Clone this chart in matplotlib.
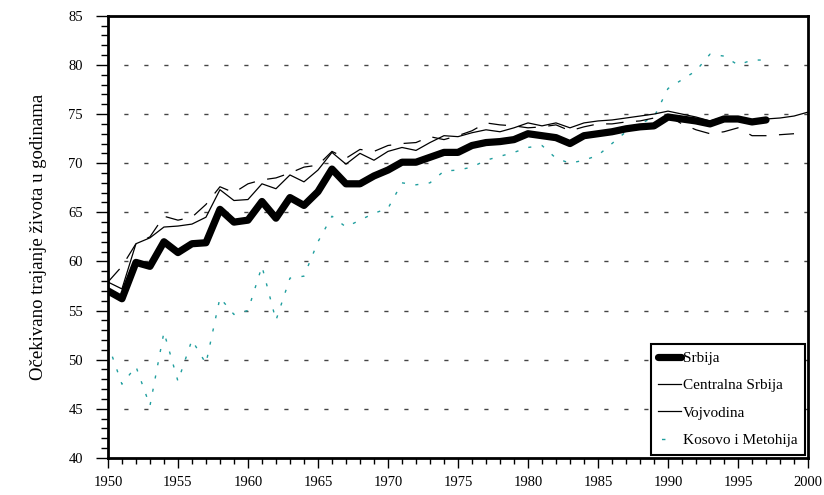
import matplotlib

matplotlib.use("Agg")
import matplotlib.pyplot as plt
from matplotlib.ticker import MultipleLocator

# life expectancy
yrs_srb = list(range(1950, 1998))
srbija = [57.0, 56.2, 59.9, 59.5, 62.0, 60.9, 61.8, 61.9, 65.3, 64.0,
          64.2, 66.1, 64.4, 66.5, 65.7, 67.1, 69.4, 67.9, 67.9, 68.7,
          69.3, 70.1, 70.1, 70.6, 71.1, 71.1, 71.8, 72.1, 72.2, 72.4,
          73.0, 72.8, 72.6, 72.0, 72.8, 73.0, 73.2, 73.5, 73.7, 73.8,
          74.7, 74.5, 74.3, 74.0, 74.5, 74.5, 74.2, 74.4]

yrs_cen = list(range(1950, 2001))
centralna = [57.9, 57.2, 61.8, 62.4, 63.5, 63.6, 63.8, 64.5, 67.3, 66.2,
             66.3, 67.9, 67.4, 68.8, 68.1, 69.3, 71.1, 69.9, 71.0, 70.3,
             71.2, 71.6, 71.3, 72.1, 72.8, 72.7, 73.1, 73.4, 73.2, 73.6,
             74.1, 73.8, 74.1, 73.6, 74.1, 74.3, 74.4, 74.6, 74.8, 75.0,
             75.3, 75.0, 74.7, 74.3, 74.7, 74.7, 74.4, 74.5, 74.6, 74.8,
             75.2]

yrs_voj = list(range(1950, 2000))
vojvodina = [57.9, 59.5, 61.8, 62.5, 64.6, 64.2, 64.5, 65.8, 67.6, 67.0,
             67.9, 68.3, 68.5, 69.0, 69.6, 69.8, 71.2, 70.5, 71.4, 71.2,
             71.8, 72.0, 72.1, 72.7, 72.4, 72.8, 73.3, 74.1, 73.9, 73.8,
             73.6, 73.7, 73.9, 73.3, 73.7, 74.0, 74.0, 74.2, 74.3, 74.6,
             74.8, 74.0, 73.4, 73.0, 73.2, 73.6, 72.8, 72.8, 72.9, 73.0]

yrs_kos = list(range(1950, 1998))
kosovo = [51.6, 47.5, 49.3, 45.3, 52.8, 47.8, 52.0, 49.6, 56.3, 54.6,
          55.0, 59.5, 54.0, 58.3, 58.5, 62.0, 64.6, 63.5, 64.2, 64.9,
          65.4, 68.0, 67.8, 68.0, 69.2, 69.3, 69.6, 70.3, 70.7, 71.1,
          71.6, 71.8, 70.5, 70.0, 70.3, 70.8, 72.0, 73.2, 74.0, 74.7,
          77.6, 78.5, 79.4, 81.1, 80.9, 80.0, 80.5, 80.5]

plt.rcParams["font.family"] = ["Liberation Serif", "DejaVu Serif"]

fig = plt.figure(figsize=(8.24, 4.95), dpi=100)
ax = fig.add_axes([0.131, 0.075, 0.8496, 0.893])

# dashed grid lines every 5 years of life
for g in range(45, 85, 5):
    ax.axhline(g, color="#444444", lw=1.0, ls=(3, (3, 11.4)), zorder=1)

ax.plot(yrs_kos, kosovo, color="#1f9e9e", lw=1.0, ls=(0, (2.2, 7.5)),
        label="Kosovo i Metohija", zorder=2)
ax.plot(yrs_voj, vojvodina, color="black", lw=0.9, ls=(0, (14, 10)),
        label="Vojvodina", zorder=3)
ax.plot(yrs_cen, centralna, color="black", lw=0.9,
        label="Centralna Srbija", zorder=4)
ax.plot(yrs_srb, srbija, color="black", lw=5.2, solid_joinstyle="round",
        solid_capstyle="round", label="Srbija", zorder=5)

ax.set_xlim(1950, 2000)
ax.set_ylim(40, 85)
ax.xaxis.set_major_locator(MultipleLocator(5))
ax.xaxis.set_minor_locator(MultipleLocator(1))
ax.yaxis.set_major_locator(MultipleLocator(5))
ax.yaxis.set_minor_locator(MultipleLocator(1))
ax.tick_params(which="both", direction="out", top=False, right=False,
               labelsize=10.5, width=1.0, color="black")
ax.tick_params(axis="x", which="major", length=7.5, pad=5.5)
ax.tick_params(axis="x", which="minor", length=4)
ax.tick_params(axis="y", which="major", length=9, pad=9)
ax.tick_params(axis="y", which="minor", length=5)
for s in ax.spines.values():
    s.set_linewidth(2.0)

ax.set_ylabel("Očekivano trajanje života u godinama", fontsize=13.5, labelpad=15)

h, l = ax.get_legend_handles_labels()
order = [3, 2, 1, 0]
leg = ax.legend([h[i] for i in order], [l[i] for i in order], loc="lower right",
                fontsize=11, frameon=True, fancybox=False, shadow=False,
                handlelength=1.5, handletextpad=0.1, labelspacing=0.9,
                borderaxespad=0.2, borderpad=0.5)
leg.get_frame().set_edgecolor("black")
leg.get_frame().set_linewidth(1.5)
leg.get_frame().set_alpha(1)
# in the legend vojvodina looks solid and kosovo is one small dash
lines = leg.get_lines()
lines[2].set_linestyle("-")
lines[3].set_linestyle((30, (2.5, 30)))

fig.savefig("out.png", dpi=100)
